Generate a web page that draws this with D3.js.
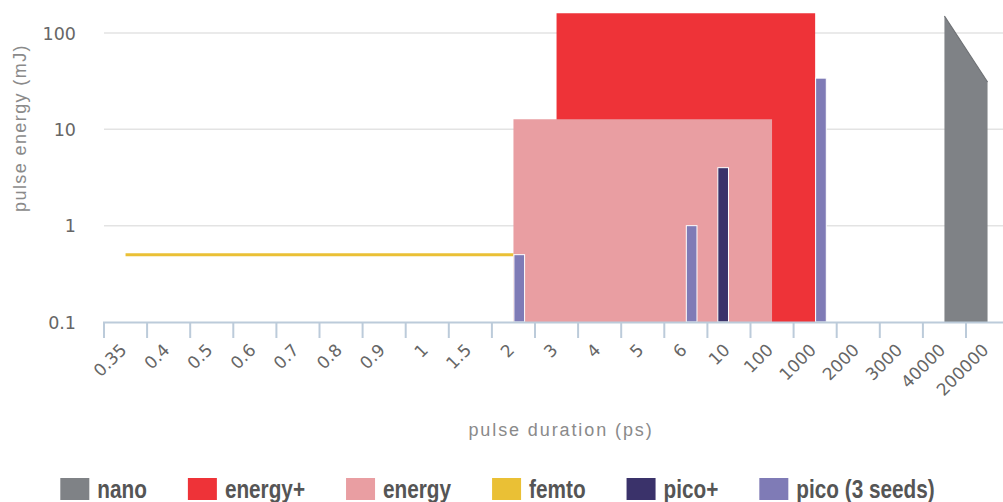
<!DOCTYPE html>
<html><head><meta charset="utf-8">
<script src="https://cdn.jsdelivr.net/npm/d3@7/dist/d3.min.js"></script>
<style>
html,body{margin:0;padding:0;background:#fff;}
svg{display:block;}
</style></head>
<body><svg id="chart" width="1003" height="502"></svg>
<script>
const categories = ["0.35","0.4","0.5","0.6","0.7","0.8","0.9","1","1.5","2","3","4","5","6","10","100","1000","2000","3000","40000","200000"];
const yTicks = [0.1, 1, 10, 100];
const seriesNames = ["nano","energy+","energy","femto","pico+","pico (3 seeds)"];
const seriesColors = ["#7f8286","#ee3338","#e99ea2","#eac035","#3a326a","#7f7bb6"];
// area / line series: [category, value]
const nanoData = [["40000",150],["200000",31]];
const energyPlusData = [["3",160],["4",160],["5",160],["6",160],["10",160],["100",160],["1000",160]];
const energyData = [["2",12.7],["3",12.7],["4",12.7],["5",12.7],["6",12.7],["10",12.7],["100",12.7]];
const femtoData = [["0.35",0.5],["0.4",0.5],["0.5",0.5],["0.6",0.5],["0.7",0.5],["0.8",0.5],["0.9",0.5],["1",0.5],["1.5",0.5],["2",0.5]];
// column series
const picoPlusData = [["10",4]];
const picoData = [["2",0.5],["6",1],["1000",34]];

const svg = d3.select("#chart");
const W = 1003, H = 502;
const left = 104, step = 43.1;
const bottomY = 322, topY = 33;

const x = d3.scaleBand().domain(categories).range([left, left + step*categories.length]).padding(0);
const bw = x.bandwidth();
const cx = c => x(c) + bw/2;
const y = d3.scaleLog().domain([0.1, 100]).range([bottomY, topY]);
const xSub = d3.scaleBand().domain(["pico+","pico (3 seeds)"]).range([-11.6, 11.6]).paddingInner(0.08).paddingOuter(0.04);

// gridlines
svg.append("g").selectAll("line").data(yTicks.filter(t=>t>0.1)).join("line")
  .attr("x1", left).attr("x2", W).attr("y1", d=>y(d)).attr("y2", d=>y(d))
  .attr("stroke","#e3e3e3").attr("stroke-width",1.5);

// y labels
const yAxis = d3.axisLeft(y).tickValues(yTicks).tickFormat(d=>String(d)).tickSize(0).tickPadding(0);
const gy = svg.append("g").attr("transform","translate(76,0)").call(yAxis);
gy.select(".domain").remove();
gy.selectAll("text").attr("font-family","DejaVu Sans, Verdana, sans-serif").attr("font-size",17.5).attr("fill","#666").attr("dy","0.36em");

// areas
const area = d3.area().x(d=>cx(d[0])).y0(y(0.1)).y1(d=>y(d[1]));
svg.append("path").datum(nanoData).attr("d",area).attr("fill",seriesColors[0]);
svg.append("path").datum(nanoData).attr("d",d3.line().x(d=>cx(d[0])).y(d=>y(d[1])))
  .attr("fill","none").attr("stroke","#6e7175").attr("stroke-width",1.2);
svg.append("path").datum(energyPlusData).attr("d",area).attr("fill",seriesColors[1]);
svg.append("path").datum(energyData).attr("d",area).attr("fill",seriesColors[2]);
svg.append("path").datum(femtoData).attr("d",d3.line().x(d=>cx(d[0])).y(d=>y(d[1])))
  .attr("fill","none").attr("stroke",seriesColors[3]).attr("stroke-width",3);

// columns
function cols(data, name, color){
  svg.append("g").selectAll("rect").data(data).join("rect")
    .attr("x", d=>cx(d[0]) + xSub(name))
    .attr("width", xSub.bandwidth())
    .attr("y", d=>y(d[1]))
    .attr("height", d=>y(0.1)-y(d[1]))
    .attr("fill", color).attr("stroke","#fff").attr("stroke-width",1);
}
cols(picoPlusData, "pico+", seriesColors[4]);
cols(picoData, "pico (3 seeds)", seriesColors[5]);

// x axis line and ticks
const axisColor = "#bccbda";
svg.append("line").attr("x1", left-1).attr("x2", W).attr("y1", bottomY+0.5).attr("y2", bottomY+0.5)
  .attr("stroke",axisColor).attr("stroke-width",2);
svg.append("g").selectAll("line").data(categories).join("line")
  .attr("x1", d=>x(d)).attr("x2", d=>x(d)).attr("y1", bottomY).attr("y2", bottomY+16)
  .attr("stroke",axisColor).attr("stroke-width",2);

// x labels via axis
const xAxis = d3.axisBottom(x).tickSize(0).tickPadding(0);
const gx = svg.append("g").attr("transform",`translate(0,${bottomY})`).call(xAxis);
gx.select(".domain").remove();
gx.selectAll(".tick text")
  .attr("font-family","DejaVu Sans, Verdana, sans-serif").attr("font-size",17).attr("fill","#666")
  .attr("text-anchor","end").attr("dy",0).attr("y",0)
  .attr("transform","translate(2,29) rotate(-45)");

// axis titles
svg.append("text").attr("x",561).attr("y",436).attr("text-anchor","middle")
  .attr("font-family","Liberation Sans, Arial, sans-serif").attr("font-size",18).attr("letter-spacing",1.9).attr("fill","#8a8a8a")
  .text("pulse duration (ps)");
svg.append("text").attr("transform","translate(25.5,128) rotate(-90)").attr("text-anchor","middle")
  .attr("font-family","Liberation Sans, Arial, sans-serif").attr("font-size",18).attr("letter-spacing",1.4).attr("fill","#8a8a8a")
  .text("pulse energy (mJ)");

// legend
const sx = 0.83, gapSq = 8, itemGap = 41, sqW = 29, sqH = 22;
const leg = svg.append("g");
let cur = 0;
seriesNames.forEach((name,i)=>{
  const g = leg.append("g");
  g.append("rect").attr("x",cur).attr("y",478).attr("width",sqW).attr("height",sqH).attr("fill",seriesColors[i]);
  const t = g.append("g").attr("transform",`translate(${cur+sqW+gapSq},498) scale(${sx},1)`)
    .append("text").attr("font-family","Liberation Sans, Arial, sans-serif").attr("font-weight","bold")
    .attr("font-size",25).attr("fill","#555").text(name);
  const w = t.node().getComputedTextLength()*sx;
  cur += sqW + gapSq + w + itemGap;
});
const total = cur - itemGap;
leg.attr("transform",`translate(${(61+934)/2 - total/2},0)`);
</script></body></html>
